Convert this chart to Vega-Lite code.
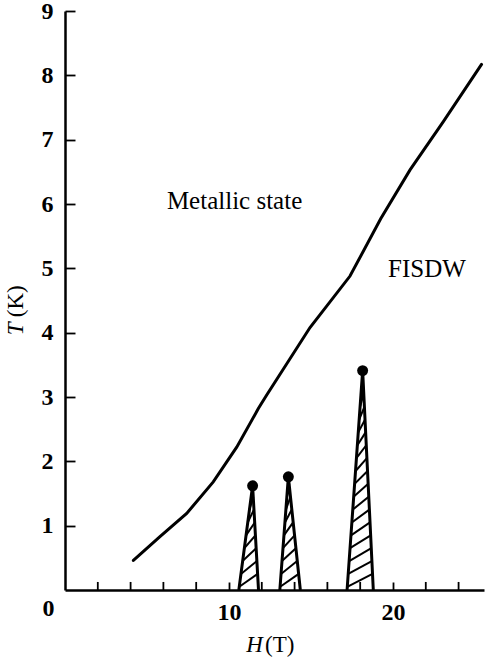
{
  "$schema": "https://vega.github.io/schema/vega-lite/v6.json",
  "autosize": {"type": "none"},
  "width": 419,
  "height": 579,
  "padding": {"left": 65, "top": 11, "right": 2, "bottom": 72},
  "background": "white",
  "config": {
    "font": "Liberation Serif",
    "view": {"stroke": null},
    "axis": {"labelOverlap": false, "labelFlush": false, "grid": false}
  },
  "datasets": {
    "curve": [
      {"H": 4.17, "T": 0.46},
      {"H": 5.79, "T": 0.83},
      {"H": 7.42, "T": 1.19},
      {"H": 9.04, "T": 1.68},
      {"H": 10.47, "T": 2.22},
      {"H": 11.79, "T": 2.82},
      {"H": 12.3, "T": 3.03},
      {"H": 14.94, "T": 4.08},
      {"H": 17.38, "T": 4.88},
      {"H": 19.25, "T": 5.77},
      {"H": 21.04, "T": 6.53},
      {"H": 23.07, "T": 7.28},
      {"H": 25.4, "T": 8.17}
    ],
    "minor": [
      {"H": 2}, {"H": 4}, {"H": 6}, {"H": 8}, {"H": 12}, {"H": 14},
      {"H": 16}, {"H": 18}, {"H": 22}, {"H": 24}
    ],
    "peaks": [
      {"peak": "a", "k": 0, "H": 10.6, "T": 0},
      {"peak": "a", "k": 1, "H": 11.44, "T": 1.62},
      {"peak": "a", "k": 2, "H": 11.8, "T": 0},
      {"peak": "b", "k": 0, "H": 13.1, "T": 0},
      {"peak": "b", "k": 1, "H": 13.62, "T": 1.76},
      {"peak": "b", "k": 2, "H": 14.35, "T": 0},
      {"peak": "c", "k": 0, "H": 17.2, "T": 0},
      {"peak": "c", "k": 1, "H": 18.15, "T": 3.41},
      {"peak": "c", "k": 2, "H": 18.8, "T": 0}
    ],
    "tops": [
      {"H": 11.44, "T": 1.62},
      {"H": 13.62, "T": 1.76},
      {"H": 18.15, "T": 3.41}
    ],
    "hatch": [
      {"H1": 10.63, "T1": 0.05, "H2": 11.74, "T2": 0.25},
      {"H1": 10.73, "T1": 0.25, "H2": 11.7, "T2": 0.45},
      {"H1": 10.83, "T1": 0.45, "H2": 11.66, "T2": 0.65},
      {"H1": 10.94, "T1": 0.65, "H2": 11.61, "T2": 0.85},
      {"H1": 11.04, "T1": 0.85, "H2": 11.57, "T2": 1.05},
      {"H1": 11.14, "T1": 1.05, "H2": 11.52, "T2": 1.25},
      {"H1": 11.25, "T1": 1.25, "H2": 11.48, "T2": 1.45},
      {"H1": 13.12, "T1": 0.05, "H2": 14.25, "T2": 0.25},
      {"H1": 13.17, "T1": 0.25, "H2": 14.16, "T2": 0.45},
      {"H1": 13.23, "T1": 0.45, "H2": 14.08, "T2": 0.65},
      {"H1": 13.29, "T1": 0.65, "H2": 14.0, "T2": 0.85},
      {"H1": 13.35, "T1": 0.85, "H2": 13.91, "T2": 1.05},
      {"H1": 13.41, "T1": 1.05, "H2": 13.83, "T2": 1.25},
      {"H1": 13.47, "T1": 1.25, "H2": 13.75, "T2": 1.45},
      {"H1": 13.53, "T1": 1.45, "H2": 13.67, "T2": 1.65},
      {"H1": 17.21, "T1": 0.05, "H2": 18.75, "T2": 0.25},
      {"H1": 17.27, "T1": 0.25, "H2": 18.71, "T2": 0.45},
      {"H1": 17.33, "T1": 0.45, "H2": 18.68, "T2": 0.65},
      {"H1": 17.38, "T1": 0.65, "H2": 18.64, "T2": 0.85},
      {"H1": 17.44, "T1": 0.85, "H2": 18.6, "T2": 1.05},
      {"H1": 17.49, "T1": 1.05, "H2": 18.56, "T2": 1.25},
      {"H1": 17.55, "T1": 1.25, "H2": 18.52, "T2": 1.45},
      {"H1": 17.6, "T1": 1.45, "H2": 18.49, "T2": 1.65},
      {"H1": 17.66, "T1": 1.65, "H2": 18.45, "T2": 1.85},
      {"H1": 17.72, "T1": 1.85, "H2": 18.41, "T2": 2.05},
      {"H1": 17.77, "T1": 2.05, "H2": 18.37, "T2": 2.25},
      {"H1": 17.83, "T1": 2.25, "H2": 18.33, "T2": 2.45},
      {"H1": 17.88, "T1": 2.45, "H2": 18.3, "T2": 2.65},
      {"H1": 17.94, "T1": 2.65, "H2": 18.26, "T2": 2.85},
      {"H1": 17.99, "T1": 2.85, "H2": 18.22, "T2": 3.05}
    ],
    "labels": [
      {"H": 10.34, "T": 6.04, "text": "Metallic state"},
      {"H": 22.07, "T": 4.99, "text": "FISDW"}
    ],
    "xunit": [{"H": 12.2, "T": -0.85, "text": "(T)"}],
    "xsym": [{"H": 12.07, "T": -0.85, "text": "H"}],
    "yunit": [{"H": -2.99, "T": 4.24, "text": "(K)"}],
    "ysym": [{"H": -2.99, "T": 3.96, "text": "T"}],
    "origin": [{"H": -1.0, "T": -0.3, "text": "0"}]
  },
  "layer": [
    {
      "data": {"name": "curve"},
      "mark": {"type": "line", "color": "black", "strokeWidth": 3, "strokeCap": "round"},
      "encoding": {
        "x": {
          "field": "H", "type": "quantitative",
          "scale": {"domain": [0, 25.55], "nice": false, "zero": false},
          "axis": {
            "values": [10, 20],
            "format": "d",
            "title": null, "grid": false,
            "domainColor": "black", "domainWidth": 2.5,
            "tickColor": "black", "tickWidth": 1.8, "tickSize": -8,
            "labelFont": "Liberation Serif", "labelFontSize": 24, "labelFontWeight": "bold",
            "labelColor": "black", "labelPadding": 18, "labelFlush": false, "labelOverlap": false
          }
        },
        "y": {
          "field": "T", "type": "quantitative",
          "scale": {"domain": [0, 9], "nice": false, "zero": false},
          "axis": {
            "values": [1, 2, 3, 4, 5, 6, 7, 8, 9],
            "format": "d",
            "title": null, "grid": false,
            "domainColor": "black", "domainWidth": 2.5,
            "tickColor": "black", "tickWidth": 1.8, "tickSize": -10,
            "labelFont": "Liberation Serif", "labelFontSize": 24, "labelFontWeight": "bold",
            "labelColor": "black", "labelPadding": 22, "labelFlush": false, "labelOverlap": false
          }
        }
      }
    },
    {
      "data": {"name": "minor"},
      "mark": {"type": "rule", "color": "black", "strokeWidth": 1.8},
      "encoding": {
        "x": {"field": "H", "type": "quantitative"},
        "y": {"datum": 0},
        "y2": {"datum": 0.125}
      }
    },
    {
      "mark": {"type": "rule", "color": "black", "strokeWidth": 2.5},
      "encoding": {"y": {"datum": 9}}
    },
    {
      "data": {"name": "hatch"},
      "mark": {"type": "rule", "color": "black", "strokeWidth": 2},
      "encoding": {
        "x": {"field": "H1", "type": "quantitative"},
        "y": {"field": "T1", "type": "quantitative"},
        "x2": {"field": "H2"},
        "y2": {"field": "T2"}
      }
    },
    {
      "data": {"name": "peaks"},
      "mark": {"type": "line", "color": "black", "strokeWidth": 3, "strokeJoin": "miter"},
      "encoding": {
        "x": {"field": "H", "type": "quantitative"},
        "y": {"field": "T", "type": "quantitative"},
        "detail": {"field": "peak"},
        "order": {"field": "k"}
      }
    },
    {
      "data": {"name": "tops"},
      "mark": {"type": "circle", "color": "black", "opacity": 1, "size": 120},
      "encoding": {
        "x": {"field": "H", "type": "quantitative"},
        "y": {"field": "T", "type": "quantitative"}
      }
    },
    {
      "data": {"name": "labels"},
      "mark": {"type": "text", "font": "Liberation Serif", "fontSize": 25, "color": "black", "align": "center", "baseline": "middle"},
      "encoding": {
        "x": {"field": "H", "type": "quantitative"},
        "y": {"field": "T", "type": "quantitative"},
        "text": {"field": "text"}
      }
    },
    {
      "data": {"name": "xunit"},
      "mark": {"type": "text", "font": "Liberation Serif", "fontSize": 23, "color": "black", "align": "left", "baseline": "middle"},
      "encoding": {
        "x": {"field": "H", "type": "quantitative"},
        "y": {"field": "T", "type": "quantitative"},
        "text": {"field": "text"}
      }
    },
    {
      "data": {"name": "xsym"},
      "mark": {"type": "text", "font": "Liberation Serif", "fontSize": 23, "fontStyle": "italic", "color": "black", "align": "right", "baseline": "middle"},
      "encoding": {
        "x": {"field": "H", "type": "quantitative"},
        "y": {"field": "T", "type": "quantitative"},
        "text": {"field": "text"}
      }
    },
    {
      "data": {"name": "yunit"},
      "mark": {"type": "text", "font": "Liberation Serif", "fontSize": 23, "color": "black", "align": "left", "baseline": "middle", "angle": 270},
      "encoding": {
        "x": {"field": "H", "type": "quantitative"},
        "y": {"field": "T", "type": "quantitative"},
        "text": {"field": "text"}
      }
    },
    {
      "data": {"name": "ysym"},
      "mark": {"type": "text", "font": "Liberation Serif", "fontSize": 23, "fontStyle": "italic", "color": "black", "align": "left", "baseline": "middle", "angle": 270},
      "encoding": {
        "x": {"field": "H", "type": "quantitative"},
        "y": {"field": "T", "type": "quantitative"},
        "text": {"field": "text"}
      }
    },
    {
      "data": {"name": "origin"},
      "mark": {"type": "text", "font": "Liberation Serif", "fontSize": 24, "fontWeight": "bold", "color": "black", "align": "center", "baseline": "middle"},
      "encoding": {
        "x": {"field": "H", "type": "quantitative"},
        "y": {"field": "T", "type": "quantitative"},
        "text": {"field": "text"}
      }
    }
  ]
}
